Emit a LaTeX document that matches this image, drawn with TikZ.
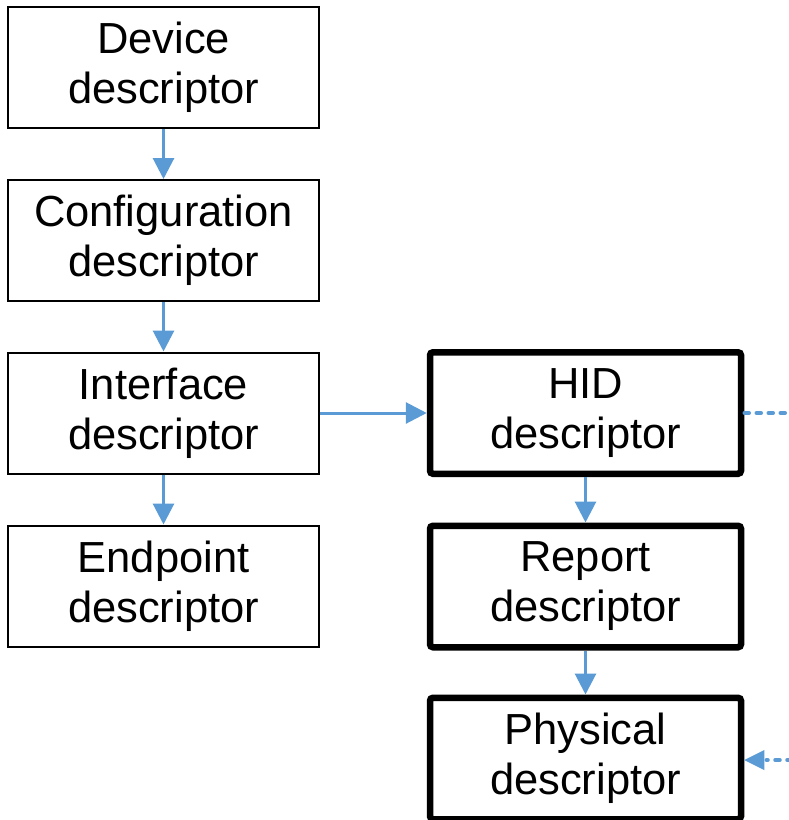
\documentclass[tikz,border=0pt]{standalone}
\usepackage{fontspec}
\setmainfont{Liberation Sans}
\usetikzlibrary{arrows.meta}
\definecolor{arrowblue}{HTML}{5B9BD5}
\tikzset{
  thinbox/.style={draw=black, line width=2pt, minimum width=311pt, minimum height=121pt, inner sep=0pt, align=center, font=\fontsize{43.5}{50}\selectfont},
  thickbox/.style={draw=black, line width=6.5pt, rounded corners=3pt, minimum width=311pt, minimum height=121.5pt, inner sep=0pt, align=center, font=\fontsize{43.5}{50}\selectfont},
  conn/.style={draw=arrowblue, line width=3pt, -{Triangle[length=21pt,width=21pt]}},
  dotline/.style={draw=arrowblue, line width=3.5pt, line cap=round, dash pattern=on 5pt off 7pt},
}
\begin{document}
\begin{tikzpicture}[x=1pt,y=-1pt]
\useasboundingbox (0,0) rectangle (789,820);
\node[thinbox] (dev) at (163.5,67.5) {Device\\descriptor};
\node[thinbox] (conf) at (163.5,240.5) {Configuration\\descriptor};
\node[thinbox] (intf) at (163.5,413) {Interface\\descriptor};
\node[thinbox] (endp) at (163.5,586) {Endpoint\\descriptor};
\node[thickbox] (hid) at (585.5,413) {HID\\descriptor};
\node[thickbox] (rep) at (585.5,586.5) {Report\\descriptor};
\node[thickbox] (phys) at (585.5,758.5) {Physical\\descriptor};
\coordinate (hidout) at (792,413);
\coordinate (physin) at (792,760);
\draw[conn] (dev) -- (conf);
\draw[conn] (conf) -- (intf);
\draw[conn] (intf) -- (endp);
\draw[conn] (intf) -- (hid);
\draw[conn] (hid) -- (rep);
\draw[conn] (rep) -- (phys);
\draw[dotline] (hid.east |- hidout) -- (hidout);
\draw[dotline] (physin) -- ([xshift=22pt]phys.east |- physin);
\draw[draw=none, fill=arrowblue] ([xshift=0pt]phys.east |- physin) -- ++(20pt,-10pt) -- ++(0,20pt) -- cycle;
\end{tikzpicture}
\end{document}
